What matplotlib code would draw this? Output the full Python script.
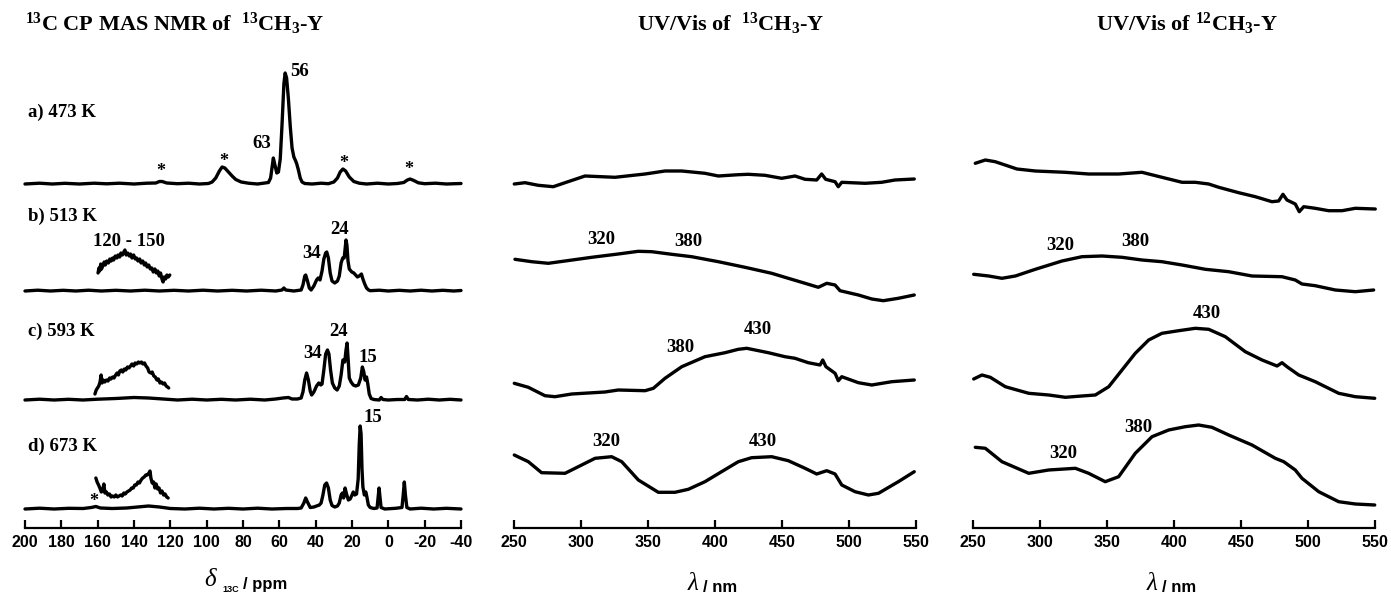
import matplotlib.pyplot as plt
import numpy as np

plt.rcParams['font.family'] = 'Liberation Sans'
plt.rcParams['axes.unicode_minus'] = False
plt.rcParams['mathtext.fontset'] = 'custom'
plt.rcParams['mathtext.rm'] = 'Liberation Serif:bold'
plt.rcParams['mathtext.it'] = 'Liberation Serif:italic'
plt.rcParams['mathtext.bf'] = 'Liberation Serif:bold'

# 13C CP MAS NMR traces (ppm, intensity)
nmr_a = [(200, 0), (192, 0.8), (185, 0), (178, 0.7), (170, 0), (162, 0.8), (155, 0.2), (148, 0.8),
         (140, 0), (133, 0.8), (128, 1), (126, 2.5), (124.5, 2.5), (122, 1), (116, 0.3), (110, 0.8),
         (104, 0), (99, 0.5), (97, 2), (95, 6), (93, 13), (91.5, 17), (90, 16), (88, 12), (86, 8),
         (84, 4.5), (81, 2), (77, 0.8), (72, 0), (68, 1), (66, 1.5), (64.8, 6), (63.3, 26), (62.3, 18),
         (61.4, 11), (60.5, 12), (59.5, 25), (58.5, 60), (57.5, 100), (56.8, 111), (56, 106), (55, 85),
         (54, 58), (53, 36), (52, 27), (51, 23), (50.4, 20), (49.5, 14), (48.5, 6), (47.5, 2), (46, 0.5),
         (42, 0), (37, 0.8), (33, 0.3), (30, 2), (28, 6), (26.5, 12), (25, 15), (23.5, 13), (21.5, 7),
         (19, 2.5), (16, 0.8), (12, 0), (6, 0.8), (0, 0), (-5, 0.5), (-8.5, 1.5), (-10.5, 4), (-12, 5),
         (-14, 3.5), (-16.5, 1.2), (-20, 0.3), (-26, 0.8), (-32, 0), (-40, 0.5)]
nmr_b = [(200, 0), (193, 0.8), (186, 0), (179, 0.7), (172, 0), (165, 0.8), (158, 0), (150, 0.7),
         (142, 0), (134, 0.8), (126, 0), (118, 0.7), (110, 0), (102, 0.8), (94, 0), (86, 0.7), (78, 0),
         (70, 0.8), (62, 0), (58.5, 1), (57.5, 3), (56.5, 1), (52, 0), (48, 1), (47, 6), (46, 15),
         (45.5, 16), (44.5, 10), (43.5, 3), (42.5, 1), (41, 5), (39.5, 11), (38.6, 13), (37.6, 11),
         (36.5, 20), (35.5, 32), (34.5, 38), (33.9, 39), (33, 33), (32, 18), (31, 10), (29.5, 8),
         (28, 10), (27, 15), (26, 28), (25.1, 33), (24.3, 33), (23.8, 42), (23.3, 51), (22.8, 46),
         (22.2, 30), (21.5, 22), (20.1, 19), (19, 18), (18, 16), (17, 14), (16, 15), (14.8, 17),
         (14, 12), (13, 7), (12, 3), (11, 1.2), (10, 0.3), (5, 0.8), (0, 0), (-6, 0.7), (-12, 0),
         (-18, 0.8), (-24, 0), (-30, 0.7), (-36, 0), (-40, 0.5)]
nmr_c = [(200, 0), (192, 0.8), (184, 0), (176, 0.7), (168, 0), (160, 0.8), (150, 1.5), (140, 2.5),
         (132, 2), (124, 1), (116, 0), (108, 0.8), (100, 0), (92, 0.7), (84, 0), (76, 0.8), (68, 0),
         (62, 1), (58, 2), (55, 2.5), (53, 1), (50, 1), (48, 2), (47, 8), (46, 20), (45, 27), (44, 20),
         (43, 9), (42.2, 5), (41, 8), (39.5, 14), (38.3, 17), (37.2, 15), (36.5, 16), (35.5, 30),
         (34.5, 46), (33.5, 50), (32.7, 46), (31.8, 30), (30.8, 17), (29.5, 12), (28.2, 10), (27, 14),
         (26, 25), (25, 40), (24, 38), (23.3, 50), (22.7, 57), (22.1, 40), (21.5, 22), (20.5, 18),
         (19.3, 15), (18, 14), (16.5, 15), (15.2, 22), (14.3, 33), (13.5, 28), (12.8, 20), (12, 23),
         (11.3, 16), (10.5, 6), (9.5, 1.5), (8, 0.5), (5, 0), (4, 2.5), (3, 0.5), (0, 0), (-5, 0.5),
         (-9, 0.5), (-10, 3.5), (-11, 0.5), (-16, 0), (-22, 0.8), (-28, 0), (-34, 0.7), (-40, 0)]
nmr_d = [(200, 0), (192, 0.8), (184, 0), (176, 0.7), (168, 0.5), (163.5, 1.5), (161, 2.5), (158.5, 1),
         (152, 0.5), (144, 1), (138, 2), (132, 3), (126, 2), (120, 0.5), (112, 0), (104, 0.8), (96, 0),
         (88, 0.7), (80, 0), (72, 0.8), (64, 0), (56, 0.5), (50, 0.5), (48, 1), (46.5, 6), (45.5, 11),
         (44.5, 7), (43, 1.5), (41, 2), (39.5, 3), (38, 4), (37, 6), (36, 14), (35, 24), (34, 26),
         (33, 21), (32, 9), (31, 3.5), (29.5, 2), (28, 3), (27, 6), (26, 14), (25.3, 16), (24.6, 11),
         (23.8, 21), (23, 15), (22, 9), (21, 10), (20, 14), (19.3, 17), (18.5, 14), (17.5, 15),
         (16.6, 30), (16, 65), (15.5, 83), (15, 75), (14.5, 40), (14, 22), (13.2, 14), (12.4, 17),
         (11.8, 12), (11, 4), (10, 1.5), (8, 0.5), (6.2, 1), (5.6, 12), (5.1, 21), (4.6, 12), (4, 1.5),
         (2, 0), (-4, 0.7), (-7.5, 1.5), (-8.2, 14), (-8.8, 27), (-9.4, 14), (-10.2, 1.5), (-12, 0),
         (-18, 0.8), (-25, 0), (-32, 0.7), (-40, 0)]

# magnified 120-160 ppm region
zoom_b = [(159.8, 18), (159.3, 23), (158.9, 20), (158.3, 27), (157.9, 22), (157.2, 25), (156.4, 29),
          (155.8, 26), (155, 30), (154.1, 28), (153.3, 32), (152.6, 30), (151.8, 33), (151.2, 31),
          (150.3, 35), (149.4, 33), (148.8, 36), (147.9, 34), (147.2, 38), (146.4, 36), (145.6, 39),
          (145, 41), (144.3, 36), (143.5, 38), (142.6, 35), (141.9, 37), (141.1, 33), (140.2, 36),
          (139.3, 32), (138.6, 33), (137.8, 30), (136.9, 32), (136.1, 28), (135.2, 30), (134.3, 26),
          (133.6, 28), (132.7, 24), (131.9, 26), (131, 22), (130.2, 23), (129.4, 19), (128.5, 22),
          (127.7, 18), (126.9, 20), (126.1, 15), (125.4, 18), (124.6, 12), (124, 9), (123.4, 14),
          (122.6, 12), (121.9, 16), (121.1, 14), (120.3, 16)]
zoom_c = [(161.5, 6), (160.8, 10), (160.1, 12), (159.4, 14), (158.7, 18), (158.1, 25), (157.6, 17),
          (156.9, 20), (156.1, 18), (155.2, 20), (154.3, 19), (153.4, 22), (152.7, 21), (151.8, 23),
          (151, 22), (150.1, 25), (149.3, 27), (148.6, 25), (147.8, 29), (146.9, 30), (146.2, 28),
          (145.3, 31), (144.5, 30), (143.6, 33), (142.8, 32), (141.9, 34), (141.1, 36), (140.2, 34),
          (139.4, 37), (138.5, 36), (137.6, 38), (136.8, 37), (135.9, 38), (135.1, 36), (134.2, 37),
          (133.4, 34), (132.5, 32), (131.7, 28), (130.8, 27), (130, 28), (129.1, 24), (128.3, 23),
          (127.4, 20), (126.6, 21), (125.7, 17), (124.9, 18), (124, 16), (123.2, 17), (122.3, 14),
          (121.5, 13), (120.9, 12)]
zoom_d = [(161, 31), (160.3, 27), (159.5, 24), (158.8, 21), (158, 17), (157.3, 18), (156.6, 25),
          (156, 16), (155.2, 17), (154.4, 14), (153.5, 15), (152.6, 12), (151.8, 13), (150.9, 12),
          (150, 14), (149.1, 12), (148.2, 13), (147.3, 14), (146.5, 13), (145.6, 16), (144.8, 15),
          (143.9, 17), (143, 18), (142.1, 19), (141.3, 21), (140.4, 21), (139.6, 24), (138.7, 24),
          (137.8, 27), (137, 26), (136.1, 29), (135.2, 31), (134.4, 32), (133.5, 34), (132.7, 34),
          (131.8, 36), (131.2, 38), (130.7, 31), (130, 26), (129.2, 27), (128.5, 21), (127.8, 25),
          (127, 20), (126.2, 21), (125.4, 16), (124.6, 18), (123.7, 14), (122.9, 15), (122, 12),
          (121.2, 11)]

# UV/Vis of 13CH3-Y (nm, absorbance, arb.)
uv13_a = [(250.2, 3), (258.2, 4.3), (268.1, 1.7), (279.3, 0.3), (288.1, 4.3), (303, 11), (325.4, 9.7),
          (347.8, 13), (362.7, 16), (375.2, 16), (392.5, 13.7), (402.5, 11), (417.4, 12.3), (424.9, 12.7),
          (437.3, 11.7), (449.8, 8.7), (459.7, 11), (467.2, 7.7), (475.9, 7), (479.6, 13), (482.6, 7.7),
          (489.6, 5.3), (492, 0.3), (494.6, 4.7), (512, 3.7), (524.4, 4.7), (534.3, 7), (548.7, 8)]
uv13_b = [(250.7, 41.7), (263.2, 39.3), (275.6, 37.7), (288.1, 40), (308, 43.7), (327.8, 47),
          (342.8, 49.7), (352.8, 49.3), (367.7, 46.7), (382.6, 44.3), (402.5, 39.3), (422.4, 33.7),
          (442.3, 27.7), (454.7, 22.7), (467.2, 17.7), (477.1, 13.7), (483.4, 17.7), (489.6, 16),
          (493.3, 10.3), (507, 6), (517, 2), (525.6, 0.3), (536.8, 2.7), (548.7, 6)]
uv13_c = [(250.2, 13.7), (260.7, 9.7), (273.1, 1.3), (280.6, 0.3), (293.1, 3), (317.9, 5), (327.8, 7),
          (347.8, 6.3), (354, 8.7), (362.7, 18.7), (375.2, 30.3), (392.5, 40.3), (407.5, 44.3),
          (417.4, 47.7), (423.7, 48.7), (439.8, 44.3), (452.2, 40.3), (459.7, 38.7), (469.6, 34.3),
          (478.4, 32), (480.4, 37), (482.8, 30.3), (489.6, 23.7), (492, 16.3), (494.6, 20.3),
          (507, 14.3), (517, 12), (531.9, 15.3), (548.7, 17)]
uv13_d = [(250.2, 40), (260.7, 33.3), (270.6, 22.3), (288.1, 21.7), (300.5, 30), (310.5, 36.7),
          (322.9, 38.3), (330.4, 33.3), (342.8, 15), (357.7, 2.7), (370.1, 2.7), (380.1, 5.7),
          (392.5, 13.3), (404.9, 23.3), (417.4, 33.3), (427.3, 37.3), (442.3, 38.3), (454.7, 34.3),
          (467.2, 26.7), (475.9, 21), (483.4, 24.3), (489.6, 21), (494.6, 10), (504.5, 3.3),
          (514.5, 0), (522, 1.7), (536.8, 13.3), (548.7, 23.3)]

# UV/Vis of 12CH3-Y
uv12_a = [(251.7, 48.7), (259.2, 52), (266.6, 50.3), (282.8, 43), (296.5, 41), (318.9, 39.7),
          (336.3, 38), (358.7, 38), (376.1, 39.7), (391, 34.7), (406, 29.7), (415.9, 29.7), (425.9, 28),
          (433.4, 24.7), (448.3, 19.3), (460.7, 15.3), (473.1, 10.3), (478.1, 11), (481.3, 17.7),
          (484.3, 12), (490.5, 8), (493.5, 0.3), (496.8, 5.3), (505.4, 3.7), (515.4, 1.3),
          (525.4, 1.3), (535.3, 3.7), (550.2, 3)]
uv12_b = [(250.5, 17.7), (261.7, 16), (271.6, 13.7), (281.6, 16), (296.5, 22.7), (316.4, 31),
          (331.3, 35.3), (346.3, 36), (361.2, 34.7), (376.1, 32), (391, 30.3), (406, 27), (423.4, 22.7),
          (440.8, 20.3), (458.2, 16), (480.6, 15.3), (490.5, 12), (495.5, 8), (505.4, 6.3),
          (520.4, 2), (535.3, 0.3), (549, 2)]
uv12_c = [(250.5, 19.5), (256.7, 23.5), (262.9, 21.2), (274.1, 11.8), (291.6, 5.2), (306.5, 3.5),
          (318.9, 1.2), (331.3, 2.5), (341.3, 3.5), (351.3, 11.8), (361.2, 28.5), (371.1, 45.2),
          (381.1, 58.5), (391, 65.2), (403.5, 67.8), (415.9, 70.2), (425.9, 69.2), (438.3, 61.8),
          (453.2, 46.8), (465.7, 38.5), (476.9, 32.5), (480.6, 35.8), (484.3, 31.8), (493.1, 23.5),
          (505.4, 16.8), (522.9, 5.2), (535.3, 1.8), (549.8, 0.2)]
uv12_d = [(251.7, 57.7), (259.2, 56.7), (271.6, 43.3), (291.6, 31.7), (306.5, 35), (326.4, 36.7),
          (336.3, 31.7), (348.7, 23.3), (358.7, 28.3), (371.1, 51.7), (383.6, 68.3), (396, 75),
          (408.4, 78.3), (418.4, 80), (428.3, 77.7), (440.8, 70), (458.2, 60), (475.6, 46.7),
          (481.9, 43.3), (490.5, 35), (495.5, 26.7), (508, 13.3), (522.9, 3.3), (535.3, 1), (549.8, 0)]

W, H = 1391, 596
fig = plt.figure(figsize=(W / 100, H / 100), dpi=100)


def px(x, y):
    return x / W, 1 - y / H


def make_axes(x0, x1, xlim, ticks):
    ax = fig.add_axes([x0 / W, (H - 528) / H, (x1 - x0) / W, 528 / H])
    ax.set_xlim(*xlim)
    ax.set_ylim(0, 528)
    for s in ['left', 'right', 'top']:
        ax.spines[s].set_visible(False)
    ax.spines['bottom'].set_linewidth(1.6)
    ax.set_yticks([])
    ax.set_xticks(ticks)
    ax.tick_params(axis='x', direction='in', length=6, width=1.6, labelsize=11.5, pad=5)
    for lab in ax.get_xticklabels():
        lab.set_fontweight('bold')
    ax.patch.set_alpha(0)
    return ax


def trace(ax, data, offset, lw=2.4):
    d = np.array(data, dtype=float)
    ax.plot(d[:, 0], d[:, 1] + offset, color='black', lw=lw, solid_joinstyle='round',
            solid_capstyle='round', clip_on=False)


lab = dict(family='Liberation Serif', weight='bold', ha='center', va='center')

# NMR panel
ax1 = make_axes(25, 461, (200, -40), range(200, -41, -20))
nmr_offsets = [344, 237, 128, 19]
for data, off in zip([nmr_a, nmr_b, nmr_c, nmr_d], nmr_offsets):
    trace(ax1, data, off)
for data, off in zip([zoom_b, zoom_c, zoom_d], nmr_offsets[1:]):
    trace(ax1, data, off)

for txt, y in [('a) 473 K', 416), ('b) 513 K', 312), ('c) 593 K', 197), ('d) 673 K', 82)]:
    ax1.text(198.5, y, txt, family='Liberation Serif', weight='bold', fontsize=13.5,
             ha='left', va='center')
for txt, x, y in [('56', 48.6, 456), ('63', 69.5, 384), ('120 - 150', 142.7, 287),
                  ('34', 42.2, 275), ('24', 27.1, 298), ('34', 41.8, 175), ('24', 27.5, 197),
                  ('15', 11.3, 170), ('15', 8.6, 110)]:
    ax1.text(x, y, txt, fontsize=13.5, **lab)
for x, y in [(125.3, 357), (90.8, 367), (24.8, 365), (-11, 358), (162, 26)]:
    ax1.text(x, y, '*', fontsize=13, **lab)

# UV/Vis panels
ax2 = make_axes(514, 916, (250, 550), range(250, 551, 50))
for data, off in zip([uv13_a, uv13_b, uv13_c, uv13_d], [341, 227, 131, 33]):
    trace(ax2, data, off)
for txt, x, y in [('320', 315.4, 288), ('380', 380.1, 286), ('380', 373.9, 181), ('430', 432.3, 198),
                  ('320', 319.2, 86), ('430', 436, 86)]:
    ax2.text(x, y, txt, fontsize=13.5, **lab)

ax3 = make_axes(973, 1375, (250, 550), range(250, 551, 50))
for data, off in zip([uv12_a, uv12_b, uv12_c, uv12_d], [316, 236, 129.5, 23]):
    trace(ax3, data, off)
for txt, x, y in [('320', 315.2, 283), ('380', 371.1, 286), ('430', 424.6, 215),
                  ('380', 373.7, 100), ('320', 317.7, 75)]:
    ax3.text(x, y, txt, fontsize=13.5, **lab)

# titles
fig.text(*px(25, 24), r'$^{13}$C CP MAS NMR of  $^{13}$CH$_3$-Y', family='Liberation Serif',
         weight='bold', fontsize=16, ha='left', va='center')
fig.text(*px(731, 24), r'UV/Vis of  $^{13}$CH$_3$-Y', family='Liberation Serif',
         weight='bold', fontsize=16, ha='center', va='center')
fig.text(*px(1187, 24), r'UV/Vis of $^{12}$CH$_3$-Y', family='Liberation Serif',
         weight='bold', fontsize=16, ha='center', va='center')

# axis labels
fig.text(*px(204, 580), '\u03b4', family='Liberation Serif', style='italic', fontsize=18,
         ha='left', va='center')
fig.text(*px(222, 589), '13C', fontsize=6.5, weight='bold', ha='left', va='center')
fig.text(*px(243, 584), '/ ppm', fontsize=12, weight='bold', ha='left', va='center')
for x in [688, 1147]:
    fig.text(*px(x, 584), '\u03bb', family='Liberation Serif', style='italic', fontsize=18,
             ha='left', va='center')
    fig.text(*px(x + 15, 587), '/ nm', fontsize=12, weight='bold', ha='left', va='center')

fig.savefig('out.png', dpi=100)
